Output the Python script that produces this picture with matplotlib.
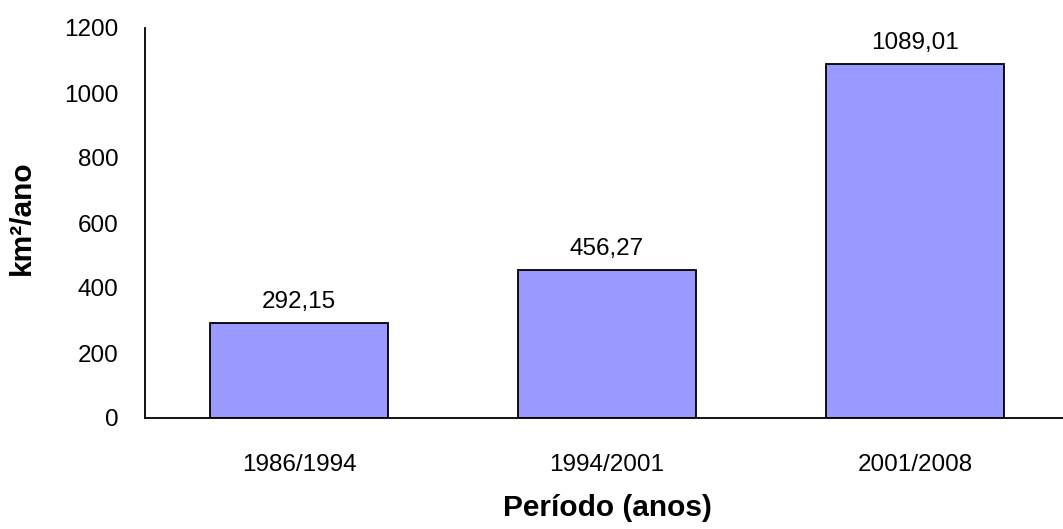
import matplotlib.pyplot as plt

periodos = ["1986/1994", "1994/2001", "2001/2008"]
taxas = [292.15, 456.27, 1089.01]
rotulos = ["292,15", "456,27", "1089,01"]
yticks = [0, 200, 400, 600, 800, 1000, 1200]

plt.rcParams['font.family'] = ['Liberation Sans', 'DejaVu Sans']

fig = plt.figure(figsize=(10.63, 5.29), dpi=100)
ax = fig.add_axes([145 / 1063, 111 / 529, 924 / 1063, 390 / 529])

x = range(len(periodos))
barras = ax.bar(x, taxas, width=0.575, color="#9999FF", edgecolor="black", linewidth=1.3)
for b, txt in zip(barras, rotulos):
    ax.text(b.get_x() + b.get_width() / 2, b.get_height() + 30, txt,
            ha="center", va="bottom", fontsize=17.5)

ax.set_xlim(-0.5, 2.5)
ax.set_ylim(0, 1200)
ax.set_xticks(list(x))
ax.set_xticklabels(periodos, fontsize=17.5)
ax.set_yticks(yticks)
ax.set_yticklabels([str(v) for v in yticks], fontsize=17.5)
ax.tick_params(length=0)
ax.tick_params(axis="y", pad=19)
ax.tick_params(axis="x", pad=26)

ax.spines["top"].set_visible(False)
ax.spines["right"].set_visible(False)
ax.spines["left"].set_linewidth(1.3)
ax.spines["bottom"].set_linewidth(1.3)

ax.set_xlabel("Período (anos)", fontsize=21.5, fontweight="bold")
ax.xaxis.set_label_coords(0.5, -0.195)
ax.set_ylabel("km²/ano", fontsize=21.5, fontweight="bold")
ax.yaxis.set_label_coords(-0.118, 0.513)

fig.savefig("out.png", dpi=100)
